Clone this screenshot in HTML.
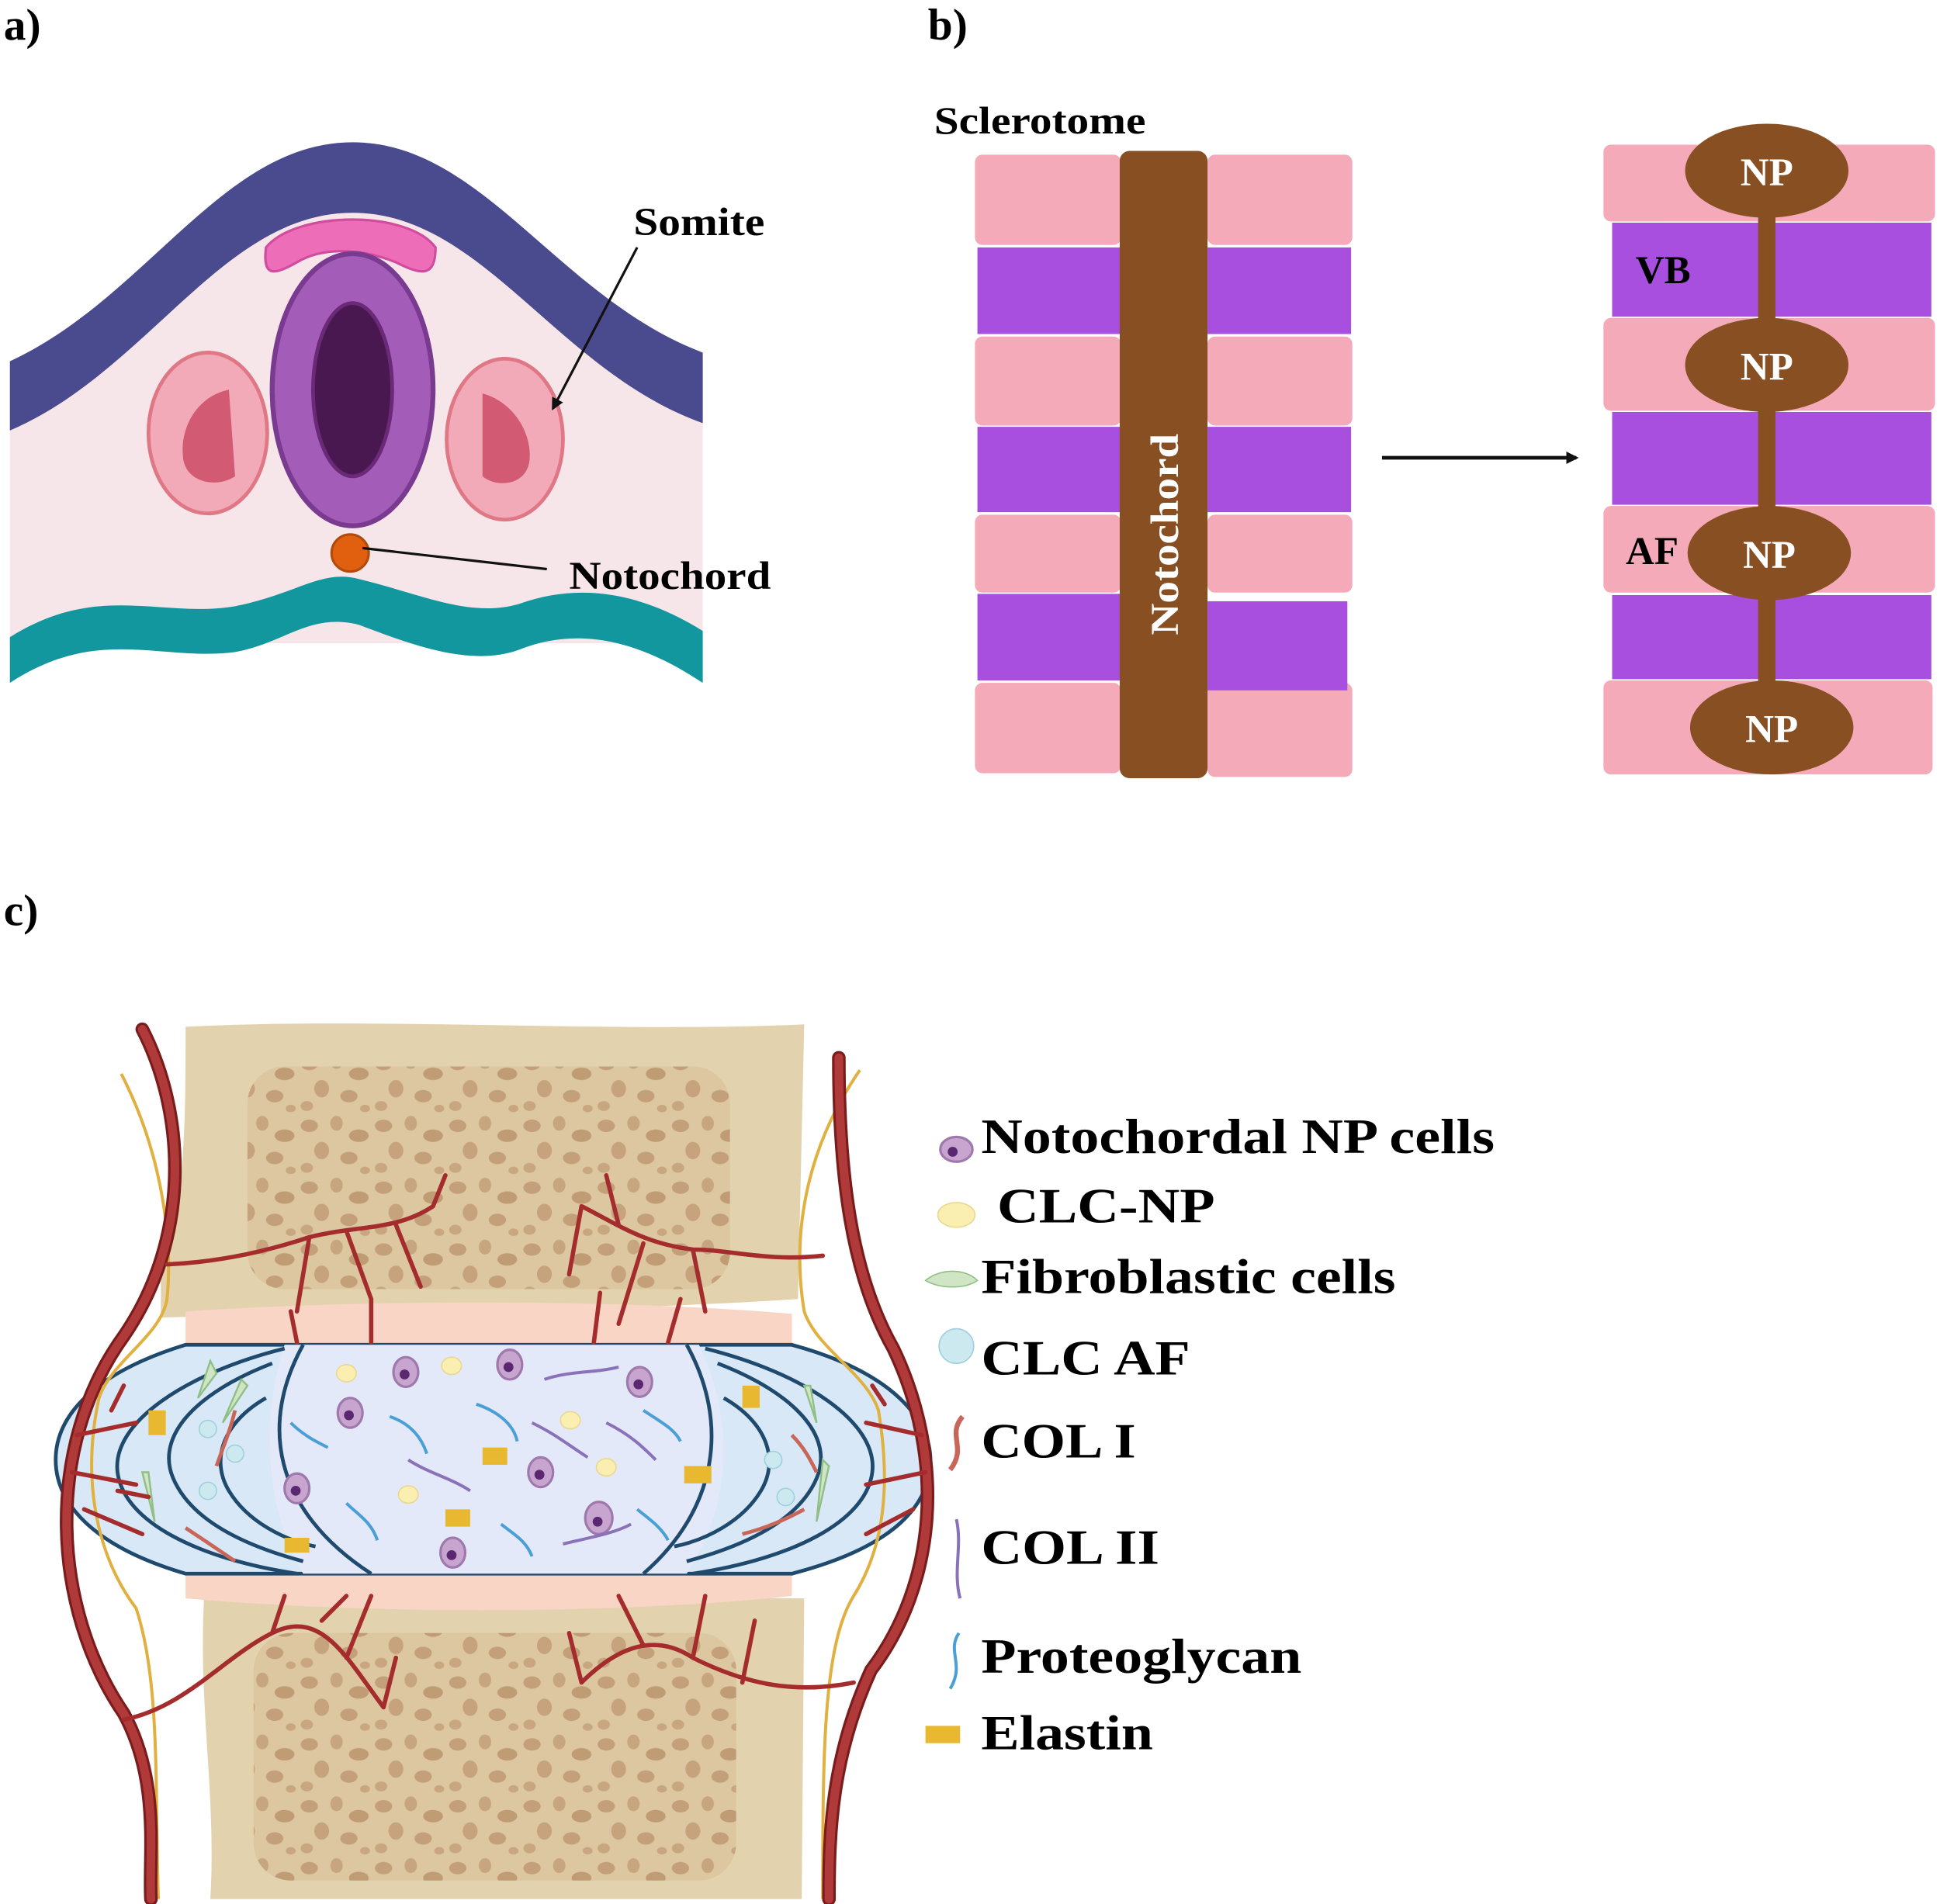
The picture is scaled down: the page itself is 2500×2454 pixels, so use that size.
<!DOCTYPE html>
<html><head><meta charset="utf-8"><style>
html,body{margin:0;padding:0;background:#fff}
svg{display:block}
text{font-family:"Liberation Serif",serif;font-weight:bold}
</style></head><body>
<svg width="2500" height="2454" viewBox="0 0 1568 1539" preserveAspectRatio="none" xmlns="http://www.w3.org/2000/svg">
<defs>
<pattern id="sp" width="60" height="50" patternUnits="userSpaceOnUse">
<rect width="60" height="50" fill="#dcc7a0"/>
<ellipse cx="10" cy="10" rx="7" ry="5" fill="#c3a07a"/>
<ellipse cx="32" cy="8" rx="5" ry="6" fill="#c7a57e"/>
<ellipse cx="50" cy="18" rx="8" ry="5" fill="#c09c74"/>
<ellipse cx="20" cy="30" rx="6" ry="7" fill="#c6a37c"/>
<ellipse cx="42" cy="36" rx="7" ry="5" fill="#c3a07a"/>
<ellipse cx="8" cy="44" rx="5" ry="4" fill="#c8a680"/>
<ellipse cx="55" cy="46" rx="4" ry="3" fill="#c8a680"/>
</pattern>
<marker id="ar" markerWidth="10" markerHeight="10" refX="8" refY="5" orient="auto" markerUnits="userSpaceOnUse"><path d="M0,0 L10,5 L0,10 z" fill="#111"/></marker>
</defs>

<!-- Panel a -->
<text x="3" y="32" font-size="36">a)</text>
<path d="M8,300 C120,250 180,120 285,120 C390,120 450,250 568,290 L568,520 L8,520 Z" fill="#f6e6ea"/>
<path d="M8,292 C120,240 180,115 285,115 C390,115 450,240 568,285 L568,342 C450,300 390,172 285,172 C180,172 120,300 8,348 Z" fill="#4a4a8e"/>
<path d="M8,515 C80,470 130,500 190,490 C240,480 260,460 290,468 C340,480 380,500 420,488 C470,470 520,480 568,510 L568,552 C520,520 470,505 420,525 C380,540 330,520 290,505 C250,495 230,520 190,527 C130,535 80,505 8,552 Z" fill="#12979f"/>
<path d="M215,200 C240,170 330,170 352,200 C352,225 340,222 320,212 C290,200 260,200 240,212 C222,222 212,225 215,200 Z" fill="#ee6db8" stroke="#d14c9e" stroke-width="2"/>
<ellipse cx="285" cy="315" rx="65" ry="110" fill="#a35cb8" stroke="#7a3a90" stroke-width="4"/>
<ellipse cx="285" cy="315" rx="32" ry="70" fill="#4a1850" stroke="#6a2a78" stroke-width="3"/>
<ellipse cx="168" cy="350" rx="48" ry="65" fill="#f2a9b8" stroke="#e07785" stroke-width="3"/>
<path d="M185,315 C160,320 145,345 148,370 C150,390 175,395 190,385 Z" fill="#d25a72"/>
<ellipse cx="408" cy="355" rx="47" ry="65" fill="#f2a9b8" stroke="#e07785" stroke-width="3"/>
<path d="M390,318 C415,325 430,350 428,372 C426,392 402,395 390,385 Z" fill="#d25a72"/>
<circle cx="283" cy="447" r="15" fill="#e06010" stroke="#b24a0c" stroke-width="2"/>
<line x1="515" y1="200" x2="447" y2="330" stroke="#111" stroke-width="2" marker-end="url(#ar)"/>
<line x1="442" y1="460" x2="293" y2="443" stroke="#111" stroke-width="2"/>
<text x="512" y="190" font-size="32" textLength="106" lengthAdjust="spacingAndGlyphs">Somite</text>
<text x="460" y="476" font-size="32" textLength="163" lengthAdjust="spacingAndGlyphs">Notochord</text>

<!-- Panel b -->
<text x="750" y="32" font-size="36">b)</text>
<text x="755" y="108" font-size="31" textLength="171" lengthAdjust="spacingAndGlyphs">Sclerotome</text>
<g fill="#f4aab9">
<rect x="788" y="125" width="118" height="73" rx="6"/><rect x="976" y="125" width="117" height="73" rx="6"/>
<rect x="788" y="272" width="118" height="72" rx="6"/><rect x="976" y="272" width="117" height="72" rx="6"/>
<rect x="788" y="416" width="118" height="63" rx="6"/><rect x="976" y="416" width="117" height="63" rx="6"/>
<rect x="788" y="552" width="118" height="73" rx="6"/><rect x="976" y="552" width="117" height="76" rx="6"/>
</g>
<g fill="#a84fe0">
<rect x="790" y="200" width="116" height="70"/><rect x="976" y="200" width="116" height="70"/>
<rect x="790" y="345" width="116" height="69"/><rect x="976" y="345" width="116" height="69"/>
<rect x="790" y="480" width="116" height="70"/><rect x="976" y="486" width="113" height="72"/>
</g>
<rect x="905" y="122" width="71" height="507" rx="8" fill="#884f22"/>
<text transform="translate(952,432) rotate(-90)" text-anchor="middle" font-size="32" fill="#fff" textLength="163" lengthAdjust="spacingAndGlyphs">Notochord</text>
<line x1="1117" y1="370" x2="1274" y2="370" stroke="#111" stroke-width="3" marker-end="url(#ar)"/>
<g fill="#f4aab9">
<rect x="1296" y="117" width="268" height="62" rx="6"/>
<rect x="1296" y="257" width="268" height="75" rx="6"/>
<rect x="1296" y="409" width="268" height="70" rx="6"/>
<rect x="1296" y="550" width="266" height="76" rx="6"/>
</g>
<g fill="#a84fe0">
<rect x="1303" y="180" width="258" height="76"/>
<rect x="1303" y="333" width="258" height="75"/>
<rect x="1303" y="481" width="258" height="68"/>
</g>
<rect x="1421" y="140" width="14" height="450" fill="#884f22"/>
<g fill="#884f22">
<ellipse cx="1428" cy="138" rx="66" ry="38"/>
<ellipse cx="1428" cy="295" rx="66" ry="38"/>
<ellipse cx="1430" cy="447" rx="66" ry="38"/>
<ellipse cx="1432" cy="588" rx="66" ry="38"/>
</g>
<g font-size="32" fill="#fff" text-anchor="middle">
<text x="1428" y="150">NP</text><text x="1428" y="307">NP</text><text x="1430" y="459">NP</text><text x="1432" y="600">NP</text>
</g>
<text x="1322" y="229" font-size="32">VB</text>
<text x="1314" y="456" font-size="32">AF</text>

<!-- Panel c -->
<text x="3" y="748" font-size="36">c)</text>
<path d="M150,830 C300,822 500,835 650,828 L645,1050 C500,1060 300,1060 130,1065 L130,1030 C150,980 150,900 150,830 Z" fill="#e3d2ae"/>
<rect x="200" y="862" width="390" height="180" rx="30" fill="url(#sp)"/>
<path d="M165,1290 C300,1300 500,1290 650,1292 L648,1535 L170,1535 C175,1450 160,1380 165,1290 Z" fill="#e3d2ae"/>
<rect x="205" y="1320" width="390" height="200" rx="30" fill="url(#sp)"/>
<path d="M150,1060 C300,1050 500,1050 640,1062 L640,1088 L150,1088 Z" fill="#f8d5c4"/>
<path d="M150,1272 L640,1272 L640,1290 C500,1305 300,1305 150,1292 Z" fill="#f8d5c4"/>
<!-- disc -->
<path d="M150,1087 L640,1087 C725,1110 752,1150 752,1180 C752,1215 725,1250 640,1272 L150,1272 C75,1250 45,1215 45,1180 C45,1145 75,1110 150,1087 Z" fill="#d9e8f6" stroke="#1f4a6d" stroke-width="3"/>
<path d="M230,1087 C210,1150 215,1220 245,1272 L555,1272 C590,1220 595,1150 565,1087 Z" fill="#e4e9fa"/>
<g fill="none" stroke="#1f4a6d" stroke-width="3">
<path d="M245,1087 C210,1150 220,1220 300,1272"/>
<path d="M230,1090 C150,1110 90,1150 95,1190 C100,1230 160,1260 240,1272"/>
<path d="M220,1102 C160,1125 125,1160 140,1195 C155,1230 200,1250 245,1262"/>
<path d="M215,1130 C180,1150 170,1180 185,1205 C200,1230 230,1245 255,1250"/>
<path d="M555,1087 C590,1150 580,1220 520,1272"/>
<path d="M570,1090 C650,1110 710,1150 705,1190 C700,1230 640,1260 560,1272"/>
<path d="M580,1102 C640,1125 675,1160 660,1195 C645,1230 600,1250 555,1262"/>
<path d="M585,1130 C620,1150 630,1180 615,1205 C600,1230 570,1245 545,1250"/>
</g>
<!-- NP contents -->
<g fill="#c7a5cf" stroke="#9f78ac" stroke-width="2">
<ellipse cx="328" cy="1109" rx="10" ry="12"/><ellipse cx="412" cy="1103" rx="10" ry="12"/><ellipse cx="517" cy="1117" rx="10" ry="12"/>
<ellipse cx="283" cy="1142" rx="10" ry="12"/><ellipse cx="437" cy="1190" rx="10" ry="12"/><ellipse cx="240" cy="1203" rx="10" ry="12"/>
<ellipse cx="484" cy="1227" rx="11" ry="13"/><ellipse cx="366" cy="1255" rx="10" ry="12"/>
</g>
<g fill="#5a2870">
<circle cx="327" cy="1111" r="4"/><circle cx="411" cy="1105" r="4"/><circle cx="516" cy="1119" r="4"/><circle cx="282" cy="1144" r="4"/>
<circle cx="436" cy="1192" r="4"/><circle cx="239" cy="1205" r="4"/><circle cx="483" cy="1230" r="4"/><circle cx="365" cy="1257" r="4"/>
</g>
<g fill="#faeeb0" stroke="#e8d890" stroke-width="1">
<ellipse cx="280" cy="1110" rx="8" ry="7"/><ellipse cx="365" cy="1104" rx="8" ry="7"/><ellipse cx="461" cy="1148" rx="8" ry="7"/>
<ellipse cx="490" cy="1186" rx="8" ry="7"/><ellipse cx="330" cy="1208" rx="8" ry="7"/>
</g>
<g fill="none" stroke-width="2.5">
<path d="M440,1115 C460,1108 480,1110 500,1105" stroke="#8a72b8"/>
<path d="M430,1150 C450,1160 455,1165 475,1178" stroke="#8a72b8"/>
<path d="M490,1150 C510,1160 520,1170 530,1180" stroke="#8a72b8"/>
<path d="M330,1180 C345,1190 365,1195 380,1205" stroke="#8a72b8"/>
<path d="M455,1248 C475,1243 495,1240 510,1232" stroke="#8a72b8"/>
<path d="M235,1150 C245,1160 255,1165 265,1170" stroke="#4a9fd6"/>
<path d="M315,1145 C330,1150 340,1160 345,1175" stroke="#4a9fd6"/>
<path d="M385,1135 C400,1140 415,1150 418,1165" stroke="#4a9fd6"/>
<path d="M520,1140 C535,1150 545,1155 550,1165" stroke="#4a9fd6"/>
<path d="M280,1215 C290,1225 300,1230 305,1245" stroke="#4a9fd6"/>
<path d="M405,1232 C415,1240 425,1245 430,1258" stroke="#4a9fd6"/>
<path d="M515,1220 C525,1228 535,1235 540,1245" stroke="#4a9fd6"/>
</g>
<g fill="#e8b830">
<rect x="390" y="1170" width="20" height="14"/><rect x="360" y="1220" width="20" height="14"/>
<rect x="553" y="1185" width="22" height="14"/><rect x="230" y="1243" width="20" height="12"/>
<rect x="120" y="1140" width="14" height="20"/><rect x="600" y="1120" width="14" height="18"/>
</g>
<g fill="#cfe5c4" stroke="#8fbf85" stroke-width="1.5">
<path d="M170,1100 L160,1130 L175,1110 Z"/><path d="M195,1115 L180,1150 L200,1120 Z"/>
<path d="M115,1190 L125,1230 L120,1190 Z"/><path d="M650,1120 L660,1150 L655,1120 Z"/>
<path d="M665,1180 L660,1230 L670,1185 Z"/>
</g>
<g fill="#cbe9ef" stroke="#9fd0dc" stroke-width="1">
<circle cx="168" cy="1155" r="7"/><circle cx="190" cy="1175" r="7"/><circle cx="168" cy="1205" r="7"/>
<circle cx="625" cy="1180" r="7"/><circle cx="635" cy="1210" r="7"/>
</g>
<g fill="none" stroke="#c9665a" stroke-width="3">
<path d="M190,1140 C185,1160 180,1170 175,1185"/><path d="M150,1235 C165,1245 180,1255 190,1262"/>
<path d="M640,1160 C650,1170 655,1180 660,1190"/><path d="M600,1240 C620,1235 635,1228 650,1220"/>
</g>
<!-- nerves -->
<g fill="none" stroke="#e0b040" stroke-width="2.5">
<path d="M98,868 C130,930 140,1000 135,1050 C130,1080 90,1100 80,1130 C65,1200 80,1260 110,1300 C130,1360 125,1450 128,1535"/>
<path d="M695,865 C650,930 640,1000 650,1060 C660,1090 700,1110 710,1140 C720,1200 715,1250 690,1290 C665,1330 665,1420 665,1535"/>
</g>
<!-- vessels -->
<g fill="none" stroke="#7a1c1c" stroke-width="11" stroke-linecap="round">
<path d="M115,832 C150,900 155,1000 100,1080 C35,1170 42,1300 100,1385 C130,1440 120,1500 122,1535"/>
<path d="M678,855 C678,950 688,1030 722,1090 C765,1180 757,1280 704,1350 C672,1420 670,1480 670,1535"/>
</g>
<g fill="none" stroke="#b03a3a" stroke-width="7" stroke-linecap="round">
<path d="M115,832 C150,900 155,1000 100,1080 C35,1170 42,1300 100,1385 C130,1440 120,1500 122,1535"/>
<path d="M678,855 C678,950 688,1030 722,1090 C765,1180 757,1280 704,1350 C672,1420 670,1480 670,1535"/>
</g>
<g fill="none" stroke="#a52c2c" stroke-width="3.5" stroke-linecap="round">
<path d="M135,1022 C180,1020 220,1010 250,1000 C290,990 320,995 350,975 M250,1000 L240,1060 M280,995 L300,1050 M320,990 L340,1040 M350,975 L360,950"/>
<path d="M665,1015 C620,1020 590,1010 560,1010 C520,1005 500,990 470,975 M560,1010 L570,1060 M520,1005 L500,1070 M470,975 L460,1030 M500,990 L490,950"/>
<path d="M240,1085 L235,1060 M300,1085 L300,1050 M480,1085 L485,1045 M540,1085 L550,1050"/>
<path d="M100,1390 C150,1380 180,1340 220,1320 C260,1300 280,1340 310,1380 M220,1320 L230,1290 M260,1310 L280,1290 M280,1340 L300,1290 M310,1380 L320,1340"/>
<path d="M690,1360 C640,1370 600,1360 560,1340 C530,1320 500,1330 470,1360 M560,1340 L570,1290 M520,1330 L500,1290 M470,1360 L460,1320 M600,1360 L610,1310"/>
<path d="M62,1160 L110,1150 M58,1190 L110,1200 M68,1220 L115,1240 M90,1140 L100,1120 M95,1205 L120,1210"/>
<path d="M745,1160 L700,1150 M748,1190 L700,1200 M738,1220 L700,1240 M715,1135 L705,1120"/>
</g>

<!-- Legend -->
<ellipse cx="773" cy="929" rx="13" ry="10" fill="#c7a5cf" stroke="#9f78ac" stroke-width="2"/><circle cx="770" cy="931" r="4" fill="#5a2870"/>
<ellipse cx="773" cy="982" rx="15" ry="10" fill="#faeeb0" stroke="#e8d890"/>
<path d="M748,1035 C760,1025 780,1025 790,1035 C780,1042 760,1042 748,1035 Z" fill="#cfe5c4" stroke="#8fbf85"/>
<circle cx="773" cy="1088" r="14" fill="#cbe9ef" stroke="#9fd0dc"/>
<path d="M778,1145 C765,1160 782,1170 768,1188" fill="none" stroke="#c9665a" stroke-width="4"/>
<path d="M773,1228 C778,1250 770,1270 776,1292" fill="none" stroke="#8a72b8" stroke-width="2.5"/>
<path d="M775,1320 C765,1335 780,1345 768,1365" fill="none" stroke="#4a9fd6" stroke-width="2.5"/>
<rect x="748" y="1395" width="28" height="14" fill="#e8b830"/>
<g font-size="40" lengthAdjust="spacingAndGlyphs">
<text x="793" y="932" textLength="415" lengthAdjust="spacingAndGlyphs">Notochordal NP cells</text>
<text x="806" y="988" textLength="176" lengthAdjust="spacingAndGlyphs">CLC-NP</text>
<text x="793" y="1045" textLength="335" lengthAdjust="spacingAndGlyphs">Fibroblastic cells</text>
<text x="793" y="1111" textLength="169" lengthAdjust="spacingAndGlyphs">CLC AF</text>
<text x="793" y="1178" textLength="125" lengthAdjust="spacingAndGlyphs">COL I</text>
<text x="793" y="1264" textLength="144" lengthAdjust="spacingAndGlyphs">COL II</text>
<text x="793" y="1352" textLength="259" lengthAdjust="spacingAndGlyphs">Proteoglycan</text>
<text x="793" y="1414" textLength="139" lengthAdjust="spacingAndGlyphs">Elastin</text>
</g>
</svg>
</body></html>
